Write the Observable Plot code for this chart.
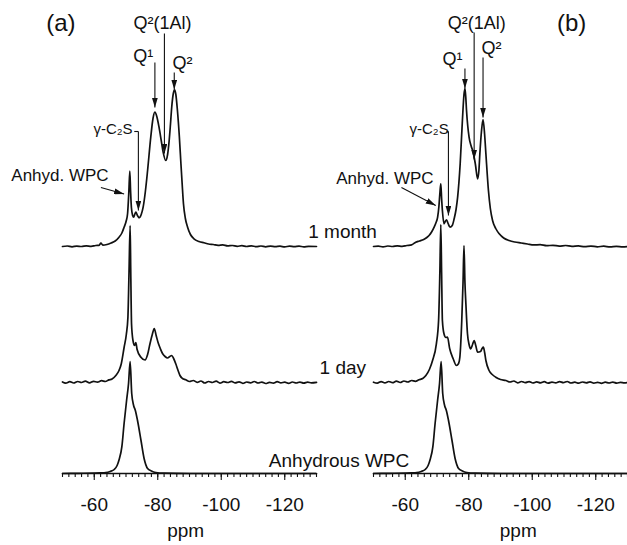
<!DOCTYPE html>
<html><head><meta charset="utf-8">
<script src="https://cdn.jsdelivr.net/npm/d3@7"></script>
<script src="https://cdn.jsdelivr.net/npm/@observablehq/plot@0.6"></script>
<style>html,body{margin:0;background:#fff}#chart{width:627px;height:545px}</style>
</head><body><div id="chart"></div>
<script>
// ---- data (ppm, intensity above the trace's own baseline) ----
const panels = ["a", "b"];
const panelTags = ["(a)", "(b)"];
const seriesNames = ["Anhydrous WPC", "1 day", "1 month"];
const seriesOffsets = [0, 91, 227];

const anhydrous = [[-50,0],[-55,0.2],[-60,0.4],[-62,0.6],[-63.6,0.9],[-65,2],[-66.3,4],[-67.2,8],[-67.8,13.5],[-68.7,26.8],[-69.4,50],[-70.2,73.5],[-70.8,90],[-71.3,111.8],[-71.8,80],[-72.4,68],[-72.9,63.5],[-73.6,53.5],[-74.7,33.5],[-75.7,15],[-76.8,5],[-78,2.5],[-79.4,1],[-82,0.3],[-90,0],[-130,0]];

const day_a = [[-50,0.5],[-51,-0.6],[-52.3,0.8],[-53.5,-0.5],[-54.8,1],[-56,0],[-57.2,1.4],[-58.5,-0.3],[-59.8,1.2],[-61,0.4],[-62.3,1.8],[-63.5,1],[-64.6,2.6],[-65.6,3.5],[-66.8,7],[-67.8,12],[-68.5,18.5],[-69.4,35],[-70.1,48],[-70.6,65],[-70.95,110],[-71.3,157],[-71.5,110],[-71.75,58],[-72.2,42],[-72.7,37],[-73.1,40],[-73.5,33],[-74.7,25.3],[-76.0,22.5],[-76.8,28],[-77.5,38],[-78.2,47],[-78.9,54],[-79.5,47],[-80.1,40],[-80.8,34],[-81.5,29],[-82.3,26],[-83.1,24.5],[-83.8,26],[-84.4,27],[-85.0,24],[-85.7,18.5],[-86.4,12],[-87.0,7],[-87.8,4],[-88.8,2.7],[-90,1],[-91.2,2],[-92.4,0.2],[-93.6,1.5],[-94.8,-0.5],[-96,1],[-97.2,0],[-98.4,1.3],[-99.6,-0.6],[-100.8,0.8],[-102,0],[-103.2,1.2],[-104.4,-0.4],[-105.6,0.6],[-106.8,-0.8],[-108,0.5],[-109.2,-0.3],[-110.4,1],[-111.6,-0.5],[-112.8,0.4],[-114,-1],[-115.2,0.2],[-116.4,-0.6],[-117.6,0.8],[-118.8,-0.4],[-120,0.3],[-121.2,-0.8],[-122.4,0.5],[-123.6,-0.5],[-124.8,0.4],[-126,-0.6],[-127.2,0.3],[-128.4,-0.3],[-130,0.2]];

const month_a = [[-50,0],[-51.5,0.5],[-53,-0.3],[-54.5,0.4],[-56,0],[-57.5,0.6],[-59,0.2],[-60.5,1],[-61.5,1.2],[-62.1,3.3],[-62.7,1.4],[-64,2],[-65.3,3.5],[-66.6,5.5],[-67.8,9.3],[-68.7,13.5],[-69.4,19.3],[-70.1,26],[-70.5,33],[-70.9,55],[-71.2,75.3],[-71.45,55],[-71.7,39],[-72.1,31],[-72.4,29.3],[-72.8,32.5],[-73.1,34.3],[-73.6,31],[-74.1,28.7],[-74.8,32],[-75.4,39.3],[-76.1,55],[-76.8,76],[-77.8,109.3],[-78.5,128],[-79.1,134.3],[-79.7,130],[-80.4,119.3],[-81.1,106],[-81.7,94.3],[-82.5,86],[-83.1,92],[-83.6,106],[-84.0,122],[-84.4,139.3],[-84.9,153],[-85.3,156.7],[-85.7,152],[-86.2,136],[-86.8,110],[-87.3,82.7],[-87.7,62],[-88.1,42.7],[-88.7,28],[-89.4,19.3],[-90.3,12],[-91.4,7.7],[-93,5],[-94.6,3.7],[-96,2.5],[-97.5,2],[-99,1.2],[-100.5,1.6],[-102,0.6],[-103.5,1],[-105,0.2],[-106.5,0.8],[-108,0],[-109.5,0.6],[-111,-0.2],[-112.5,0.5],[-114,-0.3],[-115.5,0.4],[-117,-0.2],[-118.5,0.3],[-120,-0.4],[-121.5,0.4],[-123,-0.2],[-124.5,0.3],[-126,-0.3],[-127.5,0.2],[-130,0]];

const day_b = [[-50,0.3],[-51.2,-0.6],[-52.4,0.9],[-53.6,-0.4],[-54.8,1],[-56,-0.2],[-57.2,1.3],[-58.4,0],[-59.6,1.5],[-60.8,0.5],[-62,2],[-63.2,1.2],[-64.3,2.8],[-65.5,4],[-66.5,7],[-67.6,13],[-68.6,22],[-69.8,38.7],[-70.5,62],[-70.9,110],[-71.2,158],[-71.45,110],[-71.7,62],[-72.2,48.7],[-72.8,45],[-73.3,45.3],[-74.0,33.7],[-75.1,23.7],[-76.1,17],[-76.8,19],[-77.2,25.3],[-77.8,62],[-78.2,100],[-78.5,137],[-78.8,100],[-79.1,78.7],[-79.6,48.7],[-80.1,38],[-80.6,33.7],[-81.2,38],[-81.7,42],[-82.2,37],[-82.8,30.3],[-83.7,31],[-84.2,34],[-84.6,35.3],[-85.0,30],[-85.4,22],[-86.4,12],[-87.4,8],[-88.5,5.3],[-90,3],[-91.7,2],[-93,0.5],[-94.2,1.5],[-95.4,-0.3],[-96.6,1],[-97.8,-0.2],[-99,0.9],[-100.2,-0.5],[-101.4,0.6],[-102.6,-0.3],[-103.8,0.8],[-105,-0.6],[-106.2,0.4],[-107.4,-0.4],[-108.6,0.9],[-109.8,-0.2],[-111,1],[-112.2,-0.5],[-113.4,0.3],[-114.6,-0.7],[-115.8,0.5],[-117,-0.3],[-118.2,0.6],[-119.4,-0.6],[-120.6,0.2],[-121.8,-0.8],[-123,0.3],[-124.2,-0.5],[-125.4,0.4],[-126.6,-0.7],[-127.8,0.2],[-129,-0.4],[-130,0]];

const month_b = [[-50,0],[-51.5,0.4],[-53,-0.4],[-54.5,0.5],[-56,0],[-57.5,0.7],[-59,0.2],[-60.5,1],[-62,1.6],[-63.3,4.3],[-64.5,5.5],[-65.8,7],[-66.8,9],[-67.5,11],[-68.3,14.5],[-69.1,19.3],[-69.7,24],[-70.2,29.3],[-70.6,40],[-70.95,55],[-71.2,62.7],[-71.45,48],[-71.7,36],[-72.2,22.7],[-72.6,25],[-73.0,26.7],[-73.5,23],[-74.1,19.3],[-74.8,21],[-75.4,27.7],[-76.0,37],[-76.5,49.3],[-77.3,82.7],[-78.0,126],[-78.5,152],[-78.8,158],[-79.05,150],[-79.3,136],[-80.1,109.3],[-80.8,100],[-81.4,94.3],[-82.1,82],[-82.8,67.7],[-83.2,76],[-83.5,92.7],[-84.0,115],[-84.5,127],[-85.0,112],[-85.4,92.7],[-86.2,56],[-86.8,38],[-87.5,26],[-88.5,18],[-89.6,12.7],[-91,8.5],[-92.7,6],[-94.5,4.5],[-96.5,3.5],[-98.5,2.5],[-100.5,1.6],[-102.5,1.8],[-104.5,0.8],[-106.5,1.2],[-108.5,0.4],[-110.5,1],[-112.5,0.2],[-114.5,0.6],[-116.5,-0.2],[-118.5,0.4],[-120.5,-0.3],[-122.5,0.3],[-124.5,-0.4],[-126.5,0.2],[-128.5,-0.3],[-130,0]];

// x axis
const majorTicks = [-60, -80, -100, -120];
const xDomain = [-50, -130];
const axisTitle = "ppm";
const axisTitlePpm = [-88.8, -95.6];

// annotation labels (in data units: ppm, stacked intensity)
const peakLabels = ["Q²(1Al)", "Q¹", "Q²"];
const peakLabelPpm = {a: [-81.5, -75.4, -87.8], b: [-82.5, -74.9, -87.2]};
const peakLabelY   = {a: [450.5, 417.3, 410.5], b: [450.5, 414.7, 425.5]};
const gammaLabel = "γ-C₂S";
const gammaPpm = {a: -65.9, b: -67.5}, gammaY = {a: 344.5, b: 344.7};
const anhydLabel = "Anhyd. WPC";
const anhydPpm = {a: -49.2, b: -53.6}, anhydY = {a: 298, b: 295};
// arrows: [fromPpm, fromY, toPpm, toY]
const arrows_a = [[-82.1,440,-82.1,320],[-79.1,411,-79.1,366],[-85.2,401,-85.2,384],[-73.9,342,-73.9,263],[-62.1,286,-69.4,279.5]];
const arrows_b = [[-81.7,441,-81.7,314],[-78.8,405,-78.8,385],[-84.5,416,-84.5,356],[-73.6,342,-73.6,258],[-58.8,286,-69.6,268]];
const leaders = {a: [-72.6,342,-73.9,342], b: [-73.0,342,-73.6,342]};
// series labels drawn between the panels (x in panel-a ppm units)
const seriesLabelPpm = [-137.1, -138.3, -138.2];
const seriesLabelY = [13, 105.3, 241.3];
const tagPpm = [-49.5, -112.4], tagY = [450, 450];

// ---- build tables ----
const spectra = {a: [anhydrous, day_a, month_a], b: [anhydrous, day_b, month_b]};
const rows = [];
for (const p of panels) spectra[p].forEach((s, i) => {
  for (const [ppm, v] of s) rows.push({panel: p, series: p + i, ppm, y: v + seriesOffsets[i]});
});
const arrowRows = [];
for (const [p, list] of [["a", arrows_a], ["b", arrows_b]])
  for (const [x1, y1, x2, y2] of list) arrowRows.push({panel: p, x1, y1, x2, y2});
const leaderRows = panels.map(p => ({panel: p, x1: leaders[p][0], y1: leaders[p][1], x2: leaders[p][2], y2: leaders[p][3]}));
const peakRows = [];
for (const p of panels) peakLabels.forEach((t, i) => peakRows.push({panel: p, t, x: peakLabelPpm[p][i], y: peakLabelY[p][i]}));
const gammaRows = panels.map(p => ({panel: p, t: gammaLabel, x: gammaPpm[p], y: gammaY[p]}));
const anhydRows = panels.map(p => ({panel: p, t: anhydLabel, x: anhydPpm[p], y: anhydY[p]}));
const seriesRows = seriesNames.map((t, i) => ({panel: "a", t, x: seriesLabelPpm[i], y: seriesLabelY[i]}));
const tagRows = panels.map((p, i) => ({panel: p, t: panelTags[i], x: tagPpm[i], y: tagY[i]}));
const titleRows = panels.map((p, i) => ({panel: p, t: axisTitle, x: axisTitlePpm[i], y: -57}));
const minorTicks = d3.range(-50, -130.1, -2);

const ink = "#111";
const svg = Plot.plot({
  width: 627, height: 545,
  marginLeft: 62, marginRight: 0, marginTop: 3, marginBottom: 72,
  style: {fontFamily: "'Liberation Sans', Arial, Helvetica, sans-serif", background: "#fff", color: ink},
  fx: {domain: panels, paddingInner: 57 / 311, paddingOuter: 0, axis: null},
  x: {domain: xDomain},
  y: {domain: [0, 470], axis: null},
  marks: [
    Plot.ruleY([0], {stroke: ink, strokeWidth: 1.4}),
    Plot.axisX({ticks: minorTicks, tickSize: 4, tickFormat: () => "", stroke: ink, strokeWidth: 1.1}),
    Plot.axisX({ticks: majorTicks, tickSize: 7, tickPadding: 17, tickFormat: d => String(d), fontSize: 19, fill: ink, stroke: ink, strokeWidth: 1.1}),
    Plot.text(titleRows, {fx: "panel", x: "x", y: "y", text: "t", fontSize: 19, fill: ink}),
    Plot.line(rows, {fx: "panel", x: "ppm", y: "y", z: "series", stroke: ink, strokeWidth: 1.7, curve: "monotone-x"}),
    Plot.link(arrowRows, {fx: "panel", x1: "x1", y1: "y1", x2: "x2", y2: "y2", stroke: ink, strokeWidth: 1.1, markerEnd: "arrow"}),
    Plot.link(leaderRows, {fx: "panel", x1: "x1", y1: "y1", x2: "x2", y2: "y2", stroke: ink, strokeWidth: 1.1}),
    Plot.text(peakRows, {fx: "panel", x: "x", y: "y", text: "t", fontSize: 18, fill: ink}),
    Plot.text(gammaRows, {fx: "panel", x: "x", y: "y", text: "t", fontSize: 15, fill: ink}),
    Plot.text(anhydRows, {fx: "panel", x: "x", y: "y", text: "t", fontSize: 17, fill: ink}),
    Plot.text(seriesRows, {fx: "panel", x: "x", y: "y", text: "t", fontSize: 19, fill: ink}),
    Plot.text(tagRows, {fx: "panel", x: "x", y: "y", text: "t", fontSize: 24, fill: ink})
  ]
});

// turn Plot's open arrow markers into filled arrowheads
svg.querySelectorAll("marker").forEach(m => {
  m.setAttribute("viewBox", "-10 -3 10 6");
  m.setAttribute("markerUnits", "userSpaceOnUse");
  m.setAttribute("markerWidth", "10");
  m.setAttribute("markerHeight", "6");
  m.setAttribute("refX", "0");
  m.setAttribute("refY", "0");
  m.setAttribute("fill", ink);
  m.setAttribute("stroke", "none");
  m.querySelectorAll("path").forEach(p => {
    p.setAttribute("d", "M-10,-3L0,0L-10,3Z");
    p.setAttribute("fill", ink);
    p.setAttribute("stroke", "none");
  });
});

document.getElementById("chart").appendChild(svg);
</script></body></html>
